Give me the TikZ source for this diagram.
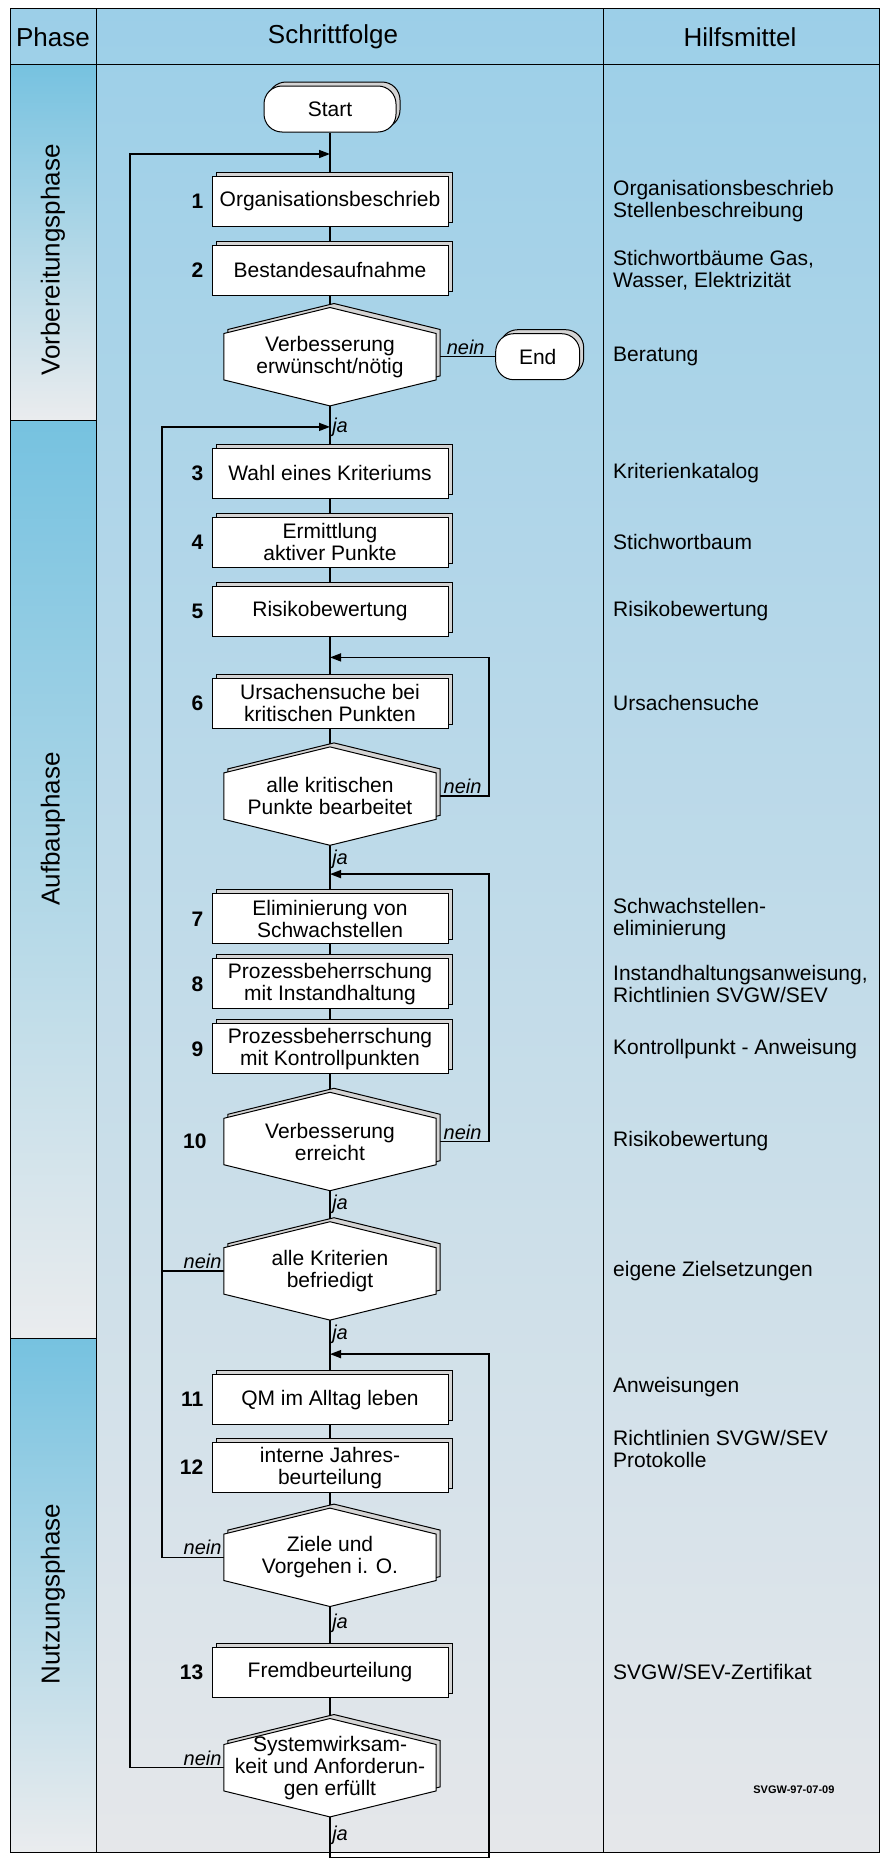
\documentclass[tikz,border=0pt]{standalone}
\usepackage{fontspec}
\setmainfont{Liberation Sans}
\usetikzlibrary{arrows.meta, positioning, calc, shadows}
\definecolor{pagetop}{RGB}{156,207,232}
\definecolor{pagemid}{RGB}{196,218,232}
\definecolor{pagebot}{RGB}{229,231,234}
\definecolor{phasetop}{RGB}{118,194,224}
\definecolor{phasebot}{RGB}{234,236,238}
\definecolor{slab}{RGB}{212,212,212}
\newcommand{\stepfont}{\fontsize{21}{22}\selectfont}
\newcommand{\nrfont}{\fontsize{21}{22}\selectfont\bfseries}
\newcommand{\yesnofont}{\fontsize{20}{22}\selectfont\itshape}
\newcommand{\titlefont}{\fontsize{26}{28}\selectfont}
\newcommand{\notefont}{\fontsize{11}{12}\selectfont\bfseries}
\pgfdeclarelayer{bg}
\pgfdeclarelayer{lines}
\pgfdeclarelayer{hex}
\pgfsetlayers{bg,lines,hex,main}
% hexagon with slab behind it, drawn round a decision node
\newcommand{\hexa}[1]{%
  \begin{pgfonlayer}{hex}
    \foreach \dd/\ff in {4pt/slab, 0pt/white}
      \draw[fill=\ff, line width=1pt] ([xshift=\dd, yshift=\dd]#1.north)
        -- ([xshift=\dd, yshift=\dd-26pt]#1.north east)
        -- ([xshift=\dd, yshift=\dd+26pt]#1.south east)
        -- ([xshift=\dd, yshift=\dd]#1.south)
        -- ([xshift=\dd, yshift=\dd+26pt]#1.south west)
        -- ([xshift=\dd, yshift=\dd-26pt]#1.north west) -- cycle;
  \end{pgfonlayer}}

\begin{document}
\begin{tikzpicture}[
    x=1pt, y=-1pt,
    >={Triangle[length=11pt, width=8pt]},
    stepbox/.style={draw, fill=white, line width=1pt, minimum width=236pt, minimum height=50pt, inner sep=2pt, align=center, font=\stepfont,
      copy shadow={shadow xshift=4pt, shadow yshift=4pt, fill=slab, draw=black, line width=1pt}},
    term/.style={draw, fill=white, line width=1pt, rounded corners=18pt, minimum height=46pt, align=center, font=\stepfont,
      copy shadow={shadow xshift=4pt, shadow yshift=4pt, fill=slab, draw=black, line width=1pt}},
    decision/.style={minimum width=212pt, minimum height=98pt, inner sep=0pt, align=center, font=\stepfont},
    num/.style={font=\nrfont, inner sep=0pt},
    aid/.style={anchor=west, align=left, font=\stepfont, inner sep=0pt},
    lbl/.style={font=\yesnofont, inner sep=1.5pt},
    phase/.style={rotate=90, font=\titlefont},
    head/.style={font=\titlefont},
    conn/.style={line width=1.5pt},
    flow/.style={->, line width=1.5pt}
  ]
    \useasboundingbox (0,0) rectangle (880,1858);

    % table
    \begin{pgfonlayer}{bg}
      \fill[white] (0,0) rectangle (880,1858);
      \shade[top color=pagetop, middle color=pagemid, bottom color=pagebot] (10,8) rectangle (879,1852);
      \shade[top color=phasetop, bottom color=phasebot] (10,64) rectangle (96,420);
      \shade[top color=phasetop, bottom color=phasebot] (10,420) rectangle (96,1338);
      \shade[top color=phasetop, bottom color=phasebot] (10,1338) rectangle (96,1852);
      \draw[line width=1pt] (10,8) rectangle (879,1852);
      \draw[line width=1pt] (10,64) -- (879,64);
      \draw[line width=1pt] (96,8) -- (96,1852);
      \draw[line width=1pt] (603,8) -- (603,1852);
      \draw[line width=1pt] (10,420) -- (96,420);
      \draw[line width=1pt] (10,1338) -- (96,1338);
    \end{pgfonlayer}

    \node[head] (hd1) at (53,37) {Phase};
    \node[head] (hd2) at (333,37) {Schrittfolge};
    \node[head] (hd3) at (740,37) {Hilfsmittel};
    \node[phase] (p1) at (53,260) {Vorbereitungsphase};
    \node[phase] (p2) at (53,829) {Aufbauphase};
    \node[phase] (p3) at (53,1594) {Nutzungsphase};

    % steps
    \node[term, minimum width=132pt] (start) at (330,109) {Start};
    \node[stepbox, below=43pt of start] (b1) {Organisationsbeschrieb};
    \node[stepbox, below=18pt of b1] (b2) {Bestandesaufnahme};
    \node[decision, below=12pt of b2] (d1) {Verbesserung\\erwünscht/nötig};
    \node[term, minimum width=84pt, right=59pt of d1] (end) {End};
    \node[stepbox, below=42pt of d1] (b3) {Wahl eines Kriteriums};
    \node[stepbox, below=18pt of b3] (b4) {Ermittlung\\aktiver Punkte};
    \node[stepbox, below=18pt of b4] (b5) {Risikobewertung};
    \node[stepbox, below=41pt of b5] (b6) {Ursachensuche bei\\kritischen Punkten};
    \node[decision, below=18pt of b6] (d2) {alle kritischen\\Punkte bearbeitet};
    \node[stepbox, below=48pt of d2] (b7) {Eliminierung von\\Schwachstellen};
    \node[stepbox, below=14pt of b7] (b8) {Prozessbeherrschung\\mit Instandhaltung};
    \node[stepbox, below=14pt of b8] (b9) {Prozessbeherrschung\\mit Kontrollpunkten};
    \node[decision, below=18pt of b9] (d3) {Verbesserung\\erreicht};
    \node[decision, below=31pt of d3] (d4) {alle Kriterien\\befriedigt};
    \node[stepbox, below=54pt of d4] (b11) {QM im Alltag leben};
    \node[stepbox, below=17pt of b11] (b12) {interne Jahres-\\beurteilung};
    \node[decision, below=15pt of b12] (d5) {Ziele und\\Vorgehen i. O.};
    \node[stepbox, below=40pt of d5] (b13) {Fremdbeurteilung};
    \node[decision, below=21pt of b13] (d6) {Systemwirksam-\\keit und Anforderun-\\gen erfüllt};
    \hexa{d1} \hexa{d2} \hexa{d3} \hexa{d4} \hexa{d5} \hexa{d6}

    % step numbers
    \node[num, left=8pt of b1] (n1) {1};
    \node[num, left=8pt of b2] (n2) {2};
    \node[num, left=8pt of b3] (n3) {3};
    \node[num, left=8pt of b4] (n4) {4};
    \node[num, left=8pt of b5] (n5) {5};
    \node[num, left=8pt of b6] (n6) {6};
    \node[num, left=8pt of b7] (n7) {7};
    \node[num, left=8pt of b8] (n8) {8};
    \node[num, left=8pt of b9] (n9) {9};
    \node[num, left=17pt of d3] (n10) {10};
    \node[num, left=8pt of b11] (n11) {11};
    \node[num, left=8pt of b12] (n12) {12};
    \node[num, left=8pt of b13] (n13) {13};

    % aids
    \coordinate (aidx) at (613,0);
    \node[aid] (h1) at (b1 -| aidx) {Organisationsbeschrieb\\Stellenbeschreibung};
    \node[aid] (h2) at (b2 -| aidx) {Stichwortbäume Gas,\\Wasser, Elektrizität};
    \node[aid] (h3) at (d1 -| aidx) {Beratung};
    \node[aid] (h4) at (b3 -| aidx) {Kriterienkatalog};
    \node[aid] (h5) at (b4 -| aidx) {Stichwortbaum};
    \node[aid] (h6) at (b5 -| aidx) {Risikobewertung};
    \node[aid] (h7) at (b6 -| aidx) {Ursachensuche};
    \node[aid] (h8) at (b7 -| aidx) {Schwachstellen-\\eliminierung};
    \node[aid] (h9) at (b8 -| aidx) {Instandhaltungsanweisung,\\Richtlinien SVGW/SEV};
    \node[aid] (h10) at (b9 -| aidx) {Kontrollpunkt - Anweisung};
    \node[aid] (h11) at (d3 -| aidx) {Risikobewertung};
    \node[aid] (h12) at (d4 -| aidx) {eigene Zielsetzungen};
    \node[aid, yshift=13pt] (h13) at (b11 -| aidx) {Anweisungen};
    \node[aid, yshift=19pt] (h14) at (b12 -| aidx) {Richtlinien SVGW/SEV\\Protokolle};
    \node[aid] (h15) at (b13 -| aidx) {SVGW/SEV-Zertifikat};
    \node[font=\notefont, anchor=east] (note) at (838,1790) {SVGW-97-07-09};

    % loop entries
    \coordinate (in1) at ($(start.south)!0.5!(b1.north)$);
    \coordinate (in2) at ($(d1.south)!0.5!(b3.north)$);
    \coordinate (in3) at ($(b5.south)!0.5!(b6.north)$);
    \coordinate (in4) at ($(d2.south)!0.6!(b7.north)$);
    \coordinate (in5) at ($(d4.south)!0.63!(b11.north)$);
    \coordinate (outer) at (130,0);
    \coordinate (inner) at (162,0);
    \coordinate (rail) at (489,0);
    \coordinate (foot) at ($(d6.south)+(0,41)$);

    \begin{pgfonlayer}{lines}
      \draw[conn] (start) -- (b1);
      \draw[conn] (b1) -- (b2);
      \draw[conn] (b2) -- (d1);
      \draw[conn] (d1) -- node[lbl, above] (nein1) {nein} (end);
      \draw[conn] (d1) -- node[lbl, right, pos=0.5] (ja1) {ja} (b3);
      \draw[conn] (b3) -- (b4);
      \draw[conn] (b4) -- (b5);
      \draw[conn] (b5) -- (b6);
      \draw[conn] (b6) -- (d2);
      \draw[conn] (d2) -- node[lbl, right, pos=0.3] (ja2) {ja} (b7);
      \draw[conn] (b7) -- (b8);
      \draw[conn] (b8) -- (b9);
      \draw[conn] (b9) -- (d3);
      \draw[conn] (d3) -- node[lbl, right, pos=0.45] (ja3) {ja} (d4);
      \draw[conn] (d4) -- node[lbl, right, pos=0.26] (ja4) {ja} (b11);
      \draw[conn] (b11) -- (b12);
      \draw[conn] (b12) -- (d5);
      \draw[conn] (d5) -- node[lbl, right, pos=0.43] (ja5) {ja} (b13);
      \draw[conn] (b13) -- (d6);

      \draw[flow] (d2.east) -- node[lbl, above] (nein2) {nein} (d2.east -| rail) |- (in3);
      \draw[flow] (d3.east) -- node[lbl, above] (nein3) {nein} (d3.east -| rail) |- (in4);
      \draw[conn] (d4.west) node[lbl, above left] (nein4) {nein} -- (d4.west -| inner);
      \draw[flow] (d5.west) node[lbl, above left] (nein5) {nein} -- (d5.west -| inner) |- (in2);
      \draw[flow] (d6.west) node[lbl, above left] (nein6) {nein} -- (d6.west -| outer) |- (in1);
      \draw[flow] (d6) -- node[lbl, right, pos=0.44] (ja6) {ja} (foot) -- (foot -| rail) |- (in5);
    \end{pgfonlayer}
  \end{tikzpicture}
\end{document}
